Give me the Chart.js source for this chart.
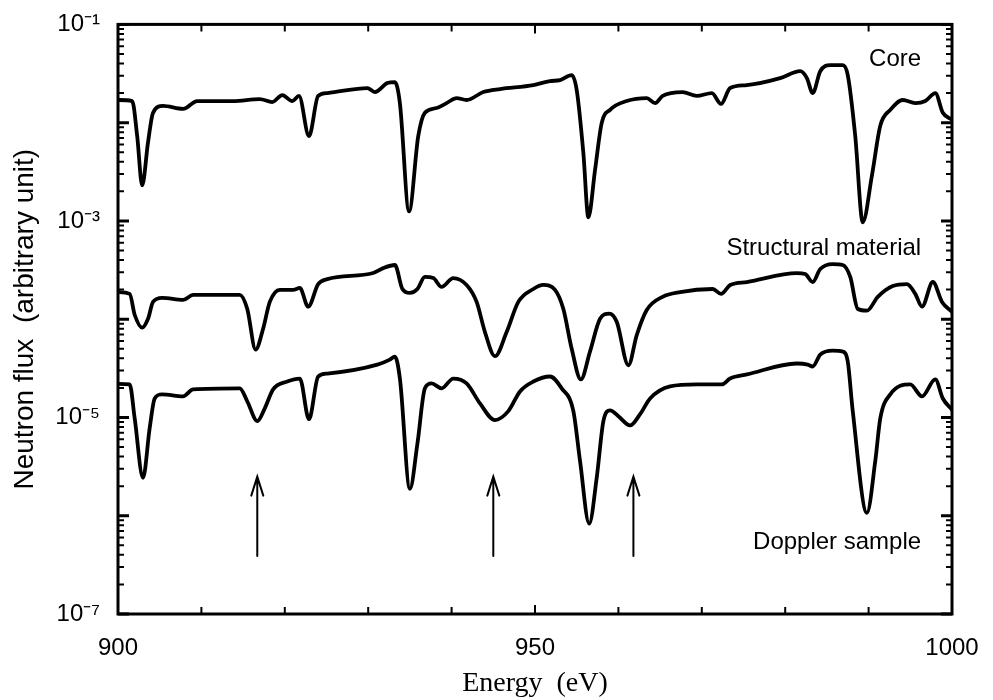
<!DOCTYPE html>
<html>
<head>
<meta charset="utf-8">
<script src="https://cdn.jsdelivr.net/npm/chart.js@4.4.1/dist/chart.umd.min.js"></script>
<style>
  html, body { margin: 0; padding: 0; background: #fff; }
</style>
</head>
<body>
<canvas id="fluxChart" width="993" height="700"></canvas>
<script>
// Energy grids (eV) and neutron flux (arbitrary unit)
const coreEnergy = [900.0, 901.7, 902.3, 902.9, 903.6, 904.2, 905.4, 907.8, 909.5, 913.8, 917.0, 918.5, 919.7, 920.9, 921.7, 922.9, 924.0, 925.1, 929.9, 930.8, 932.3, 933.2, 933.8, 934.9, 936.0, 936.8, 938.2, 939.4, 940.6, 941.8, 943.8, 945.8, 949.8, 951.8, 953.0, 954.4, 955.0, 955.8, 956.4, 957.2, 958.0, 959.0, 961.0, 963.4, 964.4, 965.3, 967.7, 969.4, 971.2, 972.3, 973.4, 975.4, 979.4, 981.8, 982.6, 983.3, 984.2, 985.4, 986.9, 987.5, 988.4, 989.3, 990.4, 991.4, 992.6, 994.1, 995.6, 996.8, 998.0, 998.9, 1000.0];
const coreFlux = [1.70e-2, 1.66e-2, 7.3e-3, 2.3e-3, 6.3e-3, 1.26e-2, 1.48e-2, 1.38e-2, 1.66e-2, 1.66e-2, 1.74e-2, 1.62e-2, 1.91e-2, 1.66e-2, 1.87e-2, 7.3e-3, 1.87e-2, 2.0e-2, 2.25e-2, 2.05e-2, 2.53e-2, 2.59e-2, 1.58e-2, 1.25e-3, 7.3e-3, 1.26e-2, 1.41e-2, 1.58e-2, 1.78e-2, 1.70e-2, 2.05e-2, 2.20e-2, 2.41e-2, 2.65e-2, 2.71e-2, 3.05e-2, 2.15e-2, 4.9e-3, 1.09e-3, 3.3e-3, 9.95e-3, 1.35e-2, 1.66e-2, 1.78e-2, 1.58e-2, 1.87e-2, 2.05e-2, 1.87e-2, 2.0e-2, 1.55e-2, 2.25e-2, 2.41e-2, 2.84e-2, 3.34e-2, 2.84e-2, 2.0e-2, 3.34e-2, 3.85e-2, 3.85e-2, 3.05e-2, 7.3e-3, 9.7e-4, 2.9e-3, 9.3e-3, 1.35e-2, 1.70e-2, 1.58e-2, 1.66e-2, 2.0e-2, 1.26e-2, 1.07e-2];

const structEnergy = [900.0, 901.4, 902.0, 902.9, 903.6, 904.2, 905.3, 907.8, 909.0, 914.6, 915.5, 916.5, 917.4, 918.2, 919.4, 921.0, 921.8, 922.8, 924.0, 925.1, 930.6, 931.8, 933.2, 934.1, 935.0, 935.9, 936.8, 937.8, 938.8, 940.2, 941.8, 943.0, 944.0, 945.2, 946.6, 948.0, 949.8, 951.0, 952.4, 953.4, 954.4, 955.5, 956.6, 957.8, 958.9, 959.8, 961.2, 962.2, 963.4, 965.3, 967.4, 971.3, 972.3, 973.4, 975.4, 981.4, 982.4, 983.3, 984.2, 985.7, 986.9, 987.8, 988.7, 989.8, 991.1, 992.9, 994.6, 995.6, 996.4, 997.7, 998.8, 1000.0];
const structFlux = [1.89e-4, 1.81e-4, 1.11e-4, 8.2e-5, 1.01e-4, 1.50e-4, 1.65e-4, 1.57e-4, 1.77e-4, 1.77e-4, 1.27e-4, 4.9e-5, 8.0e-5, 1.50e-4, 1.99e-4, 1.99e-4, 2.08e-4, 1.34e-4, 2.28e-4, 2.56e-4, 2.95e-4, 3.31e-4, 3.56e-4, 2.03e-4, 1.85e-4, 2.03e-4, 2.69e-4, 2.62e-4, 2.13e-4, 2.62e-4, 2.23e-4, 1.50e-4, 7.4e-5, 4.2e-5, 7.4e-5, 1.50e-4, 2.03e-4, 2.23e-4, 1.99e-4, 1.27e-4, 5.0e-5, 2.44e-5, 4.7e-5, 1.01e-4, 1.14e-4, 9.4e-5, 3.4e-5, 6.9e-5, 1.24e-4, 1.69e-4, 1.89e-4, 2.03e-4, 1.81e-4, 2.23e-4, 2.39e-4, 2.95e-4, 2.88e-4, 2.39e-4, 3.24e-4, 3.64e-4, 3.56e-4, 2.69e-4, 1.27e-4, 1.22e-4, 1.69e-4, 2.18e-4, 2.28e-4, 1.81e-4, 1.34e-4, 2.39e-4, 1.50e-4, 1.19e-4];

const dopplerEnergy = [900.0, 901.4, 902.0, 903.0, 903.8, 904.4, 905.3, 907.8, 909.0, 914.6, 915.5, 916.7, 917.6, 918.6, 920.3, 921.8, 922.9, 924.0, 925.1, 931.1, 932.6, 933.2, 933.8, 935.0, 935.9, 936.8, 937.6, 938.8, 940.2, 941.8, 943.4, 945.2, 946.8, 948.2, 949.8, 951.8, 953.2, 954.6, 955.4, 956.5, 957.4, 958.2, 959.0, 960.0, 961.4, 962.6, 963.8, 966.2, 969.4, 972.4, 973.4, 975.4, 981.4, 982.7, 983.3, 984.2, 985.7, 986.9, 987.5, 988.1, 989.8, 990.8, 991.4, 992.6, 995.0, 996.4, 998.0, 998.9, 1000.0];
const dopplerFlux = [2.2e-5, 2.17e-5, 9.8e-6, 2.43e-6, 7.8e-6, 1.56e-5, 1.72e-5, 1.64e-5, 1.93e-5, 1.98e-5, 1.46e-5, 9.2e-6, 1.24e-5, 1.93e-5, 2.32e-5, 2.49e-5, 9.6e-6, 2.61e-5, 2.80e-5, 3.45e-5, 3.88e-5, 4.16e-5, 2.49e-5, 1.88e-6, 5.4e-6, 1.98e-5, 2.22e-5, 1.98e-5, 2.49e-5, 2.22e-5, 1.39e-5, 9.4e-6, 1.16e-5, 1.84e-5, 2.32e-5, 2.61e-5, 1.98e-5, 1.16e-5, 3.6e-6, 8.3e-7, 2.43e-6, 9.2e-6, 1.18e-5, 1.03e-5, 8.3e-6, 1.08e-5, 1.56e-5, 2.07e-5, 2.17e-5, 2.17e-5, 2.49e-5, 2.74e-5, 3.54e-5, 3.45e-5, 3.30e-5, 4.36e-5, 4.79e-5, 4.68e-5, 3.71e-5, 1.16e-5, 1.07e-6, 3.6e-6, 9.8e-6, 1.72e-5, 2.17e-5, 1.64e-5, 2.44e-5, 1.56e-5, 1.2e-5];

// curve names written next to each curve: [text, energy of right edge, flux]
const curveLabels = [
  ["Core", 996.3, 4.4e-2],
  ["Structural material", 996.3, 5.2e-4],
  ["Doppler sample", 996.3, 5.3e-7],
];

// arrows marking the Doppler sample dips
const arrowEnergy = [916.7, 945.0, 961.8];
const arrowTail = 3.9e-7;
const arrowHead = 2.5e-6;

const xTicks = [900, 910, 920, 930, 940, 950, 960, 970, 980, 990, 1000];
const yDecades = [-7, -6, -5, -4, -3, -2, -1];

const FONT = "'Liberation Sans', Arial, Helvetica, sans-serif";
const SUP = { "-": "\u207B", "1": "\u00B9", "3": "\u00B3", "5": "\u2075", "7": "\u2077" };

function toPoints(xs, ys) {
  const n = Math.min(xs.length, ys.length);
  const pts = [];
  for (let i = 0; i < n; i++) pts.push({ x: xs[i], y: ys[i] });
  return pts;
}

function lineSet(label, xs, ys) {
  return {
    label: label,
    data: toPoints(xs, ys),
    borderColor: "#000",
    borderWidth: 3.8,
    pointRadius: 0,
    cubicInterpolationMode: "monotone",
    borderJoinStyle: "round",
    borderCapStyle: "round",
    fill: false,
  };
}

// white background, frame, inward ticks, arrows and curve names
const decorPlugin = {
  id: "decor",
  beforeDraw(chart) {
    const ctx = chart.ctx;
    ctx.save();
    ctx.fillStyle = "#fff";
    ctx.fillRect(0, 0, chart.width, chart.height);
    ctx.restore();
  },
  afterDraw(chart) {
    const ctx = chart.ctx;
    const a = chart.chartArea;
    const x = chart.scales.x;
    const y = chart.scales.y;
    ctx.save();
    ctx.strokeStyle = "#000";
    ctx.fillStyle = "#000";

    // y ticks on left and right
    yDecades.forEach(function (p) {
      for (let m = 1; m <= 9; m++) {
        const v = m * Math.pow(10, p);
        if (p === -1 && m > 1) break;
        const py = y.getPixelForValue(v);
        const len = m === 1 ? 11 : 6;
        ctx.lineWidth = m === 1 ? 3 : 2;
        ctx.beginPath();
        ctx.moveTo(a.left, py);
        ctx.lineTo(a.left + len, py);
        ctx.moveTo(a.right, py);
        ctx.lineTo(a.right - len, py);
        ctx.stroke();
      }
    });

    // x ticks on bottom and top
    xTicks.forEach(function (e) {
      const px = x.getPixelForValue(e);
      const len = e === 950 ? 9 : 7;
      ctx.lineWidth = 2;
      ctx.beginPath();
      ctx.moveTo(px, a.bottom);
      ctx.lineTo(px, a.bottom - len);
      ctx.moveTo(px, a.top);
      ctx.lineTo(px, a.top + len);
      ctx.stroke();
    });

    // frame
    ctx.lineWidth = 3;
    ctx.strokeRect(a.left, a.top, a.right - a.left, a.bottom - a.top);

    // arrows
    arrowEnergy.forEach(function (e) {
      const px = x.getPixelForValue(e);
      const yt = y.getPixelForValue(arrowTail);
      const yh = y.getPixelForValue(arrowHead);
      ctx.lineWidth = 2;
      ctx.lineCap = "round";
      ctx.beginPath();
      ctx.moveTo(px, yt);
      ctx.lineTo(px, yh);
      ctx.moveTo(px - 6, yh + 19);
      ctx.lineTo(px, yh);
      ctx.lineTo(px + 6, yh + 19);
      ctx.stroke();
    });

    // curve names
    ctx.font = "24px " + FONT;
    ctx.textAlign = "right";
    ctx.textBaseline = "middle";
    curveLabels.forEach(function (c) {
      ctx.fillText(c[0], x.getPixelForValue(c[1]), y.getPixelForValue(c[2]));
    });
    ctx.restore();
  },
};

const ctx = document.getElementById("fluxChart").getContext("2d");
const chart = new Chart(ctx, {
  type: "line",
  data: {
    datasets: [
      lineSet("Core", coreEnergy, coreFlux),
      lineSet("Structural material", structEnergy, structFlux),
      lineSet("Doppler sample", dopplerEnergy, dopplerFlux),
    ],
  },
  options: {
    responsive: false,
    animation: false,
    devicePixelRatio: 1,
    layout: { padding: { top: 21, right: 41, left: 0, bottom: 0 } },
    plugins: {
      legend: { display: false },
      tooltip: { enabled: false },
    },
    scales: {
      x: {
        type: "linear",
        min: 900,
        max: 1000,
        grid: { display: false },
        border: { display: false },
        afterFit: function (scale) {
          scale.height = 86;
        },
        afterBuildTicks: function (scale) {
          scale.ticks = xTicks.map(function (v) { return { value: v }; });
        },
        ticks: {
          autoSkip: false,
          maxRotation: 0,
          padding: 12,
          color: "#000",
          font: { family: FONT, size: 24 },
          callback: function (v) {
            return v % 50 === 0 ? String(v) : "";
          },
        },
        title: {
          display: true,
          text: "Energy  (eV)",
          color: "#000",
          padding: { top: 4, bottom: 0 },
          font: { family: "'Liberation Serif', 'Times New Roman', serif", size: 28 },
        },
      },
      y: {
        type: "logarithmic",
        min: 1e-7,
        max: 1e-1,
        grid: { display: false },
        border: { display: false },
        afterFit: function (scale) {
          scale.width = 118;
        },
        afterBuildTicks: function (scale) {
          scale.ticks = yDecades.map(function (p) { return { value: Math.pow(10, p) }; });
        },
        ticks: {
          autoSkip: false,
          padding: 10,
          color: "#000",
          font: { family: FONT, size: 24 },
          callback: function (v) {
            const p = Math.round(Math.log10(v));
            if (p % 2 === 0) return "";
            return "10" + String(p).split("").map(function (c) { return SUP[c]; }).join("");
          },
        },
        title: {
          display: true,
          text: "Neutron flux  (arbitrary unit)",
          color: "#000",
          padding: { top: 8, bottom: 0 },
          font: { family: FONT, size: 28 },
        },
      },
    },
  },
  plugins: [decorPlugin],
});
</script>
</body>
</html>
